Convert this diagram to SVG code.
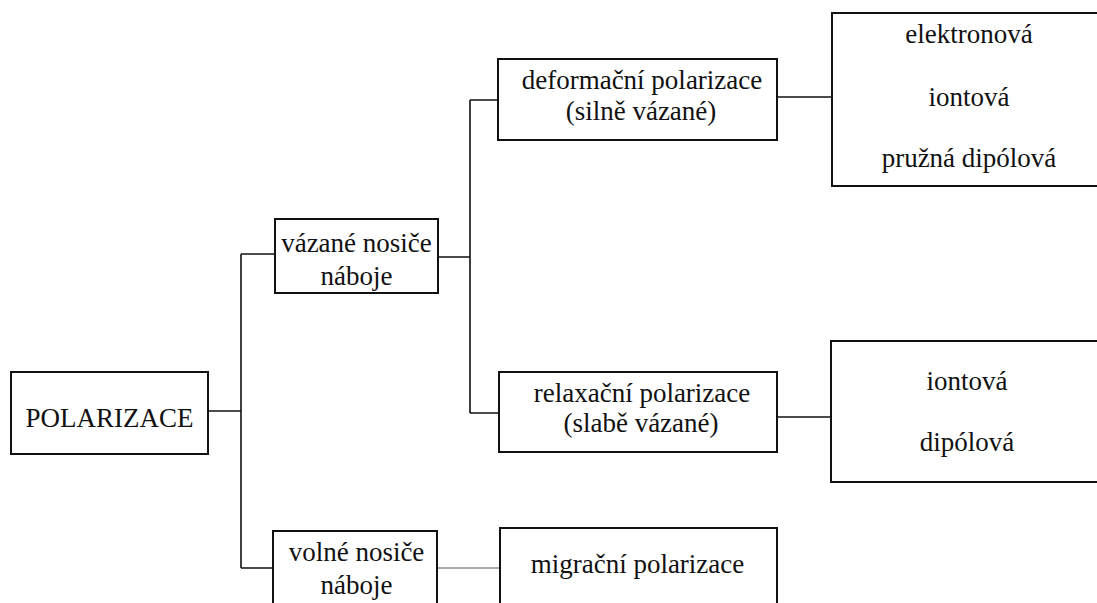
<svg xmlns="http://www.w3.org/2000/svg" width="1097" height="603" viewBox="0 0 1097 603">
<style>
.box{fill:#fff;stroke:#111;stroke-width:2}
.t{font-family:'Liberation Serif','DejaVu Serif',serif;font-size:27px;fill:#111;text-anchor:middle}
.c{fill:none;stroke:#111;stroke-width:1.6}
.thin{fill:none;stroke:#555;stroke-width:1}
</style>
<rect width="1097" height="603" fill="#fff"/>
<g id="connectors">
<path class="c" d="M208 411H241M241 254V568M241 254H275M241 568H273"/>
<path class="c" d="M438 257H470M470 100V413M470 100H498M470 413H499"/>
<path class="c" d="M777 97H832M777 417H831"/>
<path class="thin" d="M437 568H500"/>
</g>
<g id="polarizace">
<rect class="box" x="11" y="372" width="197" height="82"/>
<text class="t" x="109.500" y="427">POLARIZACE</text>
</g>
<g id="vazane">
<rect class="box" x="275" y="219" width="163" height="74"/>
<text class="t" x="356.500" y="252">vázané nosiče</text>
<text class="t" x="356.500" y="285">náboje</text>
</g>
<g id="volne">
<rect class="box" x="273" y="531" width="164" height="80"/>
<text class="t" x="356.500" y="561">volné nosiče</text>
<text class="t" x="356.500" y="594">náboje</text>
</g>
<g id="deformacni">
<rect class="box" x="498" y="59" width="279" height="81"/>
<text class="t" x="642" y="89">deformační polarizace</text>
<text class="t" x="641" y="120">(silně vázané)</text>
</g>
<g id="relaxacni">
<rect class="box" x="499" y="372" width="278" height="80"/>
<text class="t" x="642" y="402">relaxační polarizace</text>
<text class="t" x="641" y="432">(slabě vázané)</text>
</g>
<g id="migracni">
<rect class="box" x="500" y="528" width="277" height="85"/>
<text class="t" x="637.500" y="573">migrační polarizace</text>
</g>
<g id="deformacni-typy">
<rect class="box" x="832" y="13" width="280" height="173"/>
<text class="t" x="969" y="43">elektronová</text>
<text class="t" x="969" y="106">iontová</text>
<text class="t" x="969" y="167">pružná dipólová</text>
</g>
<g id="relaxacni-typy">
<rect class="box" x="831" y="341" width="280" height="141"/>
<text class="t" x="967" y="390">iontová</text>
<text class="t" x="967" y="451">dipólová</text>
</g>
</svg>
